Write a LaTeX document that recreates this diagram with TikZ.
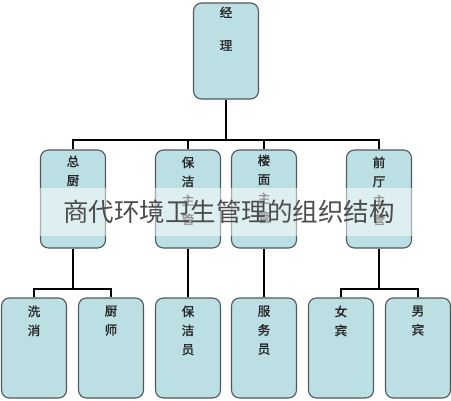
\documentclass[tikz,border=0pt]{standalone}
\usepackage{fontspec}
\newfontfamily\cjk{Noto Sans CJK SC}
\newfontfamily\cjkb[FakeBold=1.5]{Noto Sans CJK SC}
\begin{document}
\begin{tikzpicture}[x=1pt,y=-1pt,
  unit/.style={draw=boxline, fill=boxfill, rounded corners=8pt, line width=1.1pt, minimum width=65pt, inner sep=0pt},
  unittext/.style={anchor=north, inner sep=0pt, align=center, text=black!85, font=\cjkb\fontsize{12.5}{19}\selectfont},
  link/.style={line width=1.7pt, black}]
\definecolor{boxfill}{RGB}{188,223,228}
\definecolor{boxline}{RGB}{80,88,90}
\useasboundingbox (0,0) rectangle (451,400);
\node[unit, minimum height=96pt, label={[unittext, yshift=-4pt, font=\cjkb\fontsize{12.5}{33}\selectfont]north:{经\\理}}] (mgr) at (226,51) {};
\node[unit, minimum height=98pt, label={[unittext, yshift=-6pt]north:{总\\厨}}] (zc) at (73,199) {};
\node[unit, minimum height=98pt, label={[unittext, yshift=-7pt]north:{保\\洁\\主\\管}}] (bj) at (188,199) {};
\node[unit, minimum height=98pt, label={[unittext, yshift=-5pt]north:{楼\\面\\主\\管}}] (lm) at (264,199) {};
\node[unit, minimum height=98pt, label={[unittext, yshift=-7pt]north:{前\\厅\\主\\管}}] (qt) at (379,199) {};
\node[unit, minimum height=100pt, label={[unittext, yshift=-8pt]north:{洗\\消}}] (xx) at (34,348) {};
\node[unit, minimum height=100pt, label={[unittext, yshift=-8pt]north:{厨\\师}}] (cs) at (111,348) {};
\node[unit, minimum height=100pt, label={[unittext, yshift=-8pt]north:{保\\洁\\员}}] (bjy) at (188,348) {};
\node[unit, minimum height=100pt, label={[unittext, yshift=-8pt]north:{服\\务\\员}}] (fwy) at (264,348) {};
\node[unit, minimum height=100pt, label={[unittext, yshift=-8pt]north:{女\\宾}}] (nb) at (341,348) {};
\node[unit, minimum height=100pt, label={[unittext, yshift=-8pt]north:{男\\宾}}] (mb) at (418,348) {};
\coordinate (bus) at (226,140);
\coordinate (zcbus) at (73,289);
\coordinate (qtbus) at (379,289);
\draw[link] (mgr.south) -- (bus);
\draw[link] (zc.north) |- (bus) -| (qt.north);
\draw[link] (bj.north) -- (bj.north |- bus);
\draw[link] (lm.north) -- (lm.north |- bus);
\draw[link] (zc.south) -- (zcbus);
\draw[link] (xx.north) |- (zcbus) -| (cs.north);
\draw[link] (bj.south) -- (bjy.north);
\draw[link] (lm.south) -- (fwy.north);
\draw[link] (qt.south) -- (qtbus);
\draw[link] (nb.north) |- (qtbus) -| (mb.north);
\node[fill=white, fill opacity=0.5, text opacity=1, text=black!70, minimum width=382pt, minimum height=48pt, font=\cjk\fontsize{25.5}{25.5}\selectfont] (title) at (229,212) {商代环境卫生管理的组织结构};
\end{tikzpicture}
\end{document}
